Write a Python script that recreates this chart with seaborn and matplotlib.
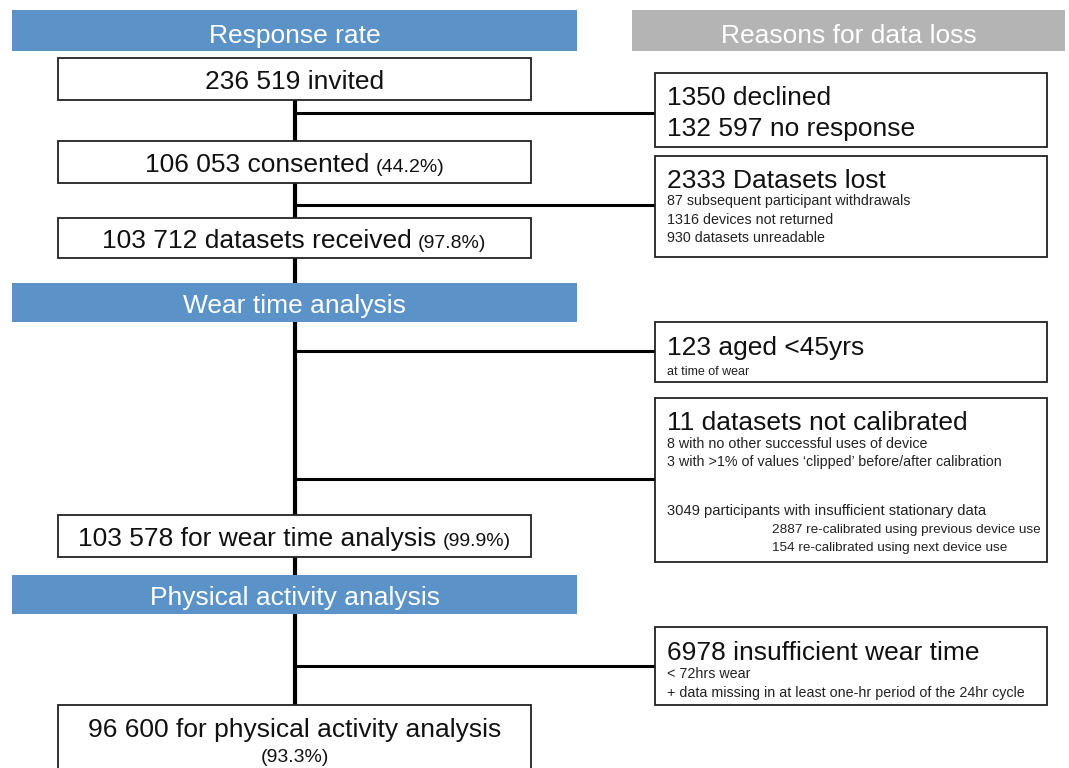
import matplotlib
matplotlib.use("Agg")
import matplotlib.pyplot as plt
import matplotlib.patches as patches
import seaborn as sns

# ---- data (text of the flow diagram) ----
header_labels = ["Response rate", "Reasons for data loss",
                 "Wear time analysis", "Physical activity analysis"]
main_counts = ["236 519 invited", "106 053 consented", "103 712 datasets received",
               "103 578 for wear time analysis", "96 600 for physical activity analysis"]
main_pcts = ["", "(44.2%)", "(97.8%)", "(99.9%)", "(93.3%)"]
loss_titles = [["1350 declined", "132 597 no response"],
               ["2333 Datasets lost"],
               ["123 aged <45yrs"],
               ["11 datasets not calibrated"],
               ["6978 insufficient wear time"]]
loss_details = [[],
                ["87 subsequent participant withdrawals", "1316 devices not returned",
                 "930 datasets unreadable"],
                ["at time of wear"],
                ["8 with no other successful uses of device",
                 "3 with >1% of values \u2018clipped\u2019 before/after calibration",
                 "3049 participants with insufficient stationary data",
                 "2887 re-calibrated using previous device use",
                 "154 re-calibrated using next device use"],
                ["< 72hrs wear", "+ data missing in at least one-hr period of the 24hr cycle"]]

# ---- layout (pixel coordinates, y downwards, text y = baseline) ----
BLUE, GREY = "#5b93c9", "#b4b4b4"
INK = "#111111"
header_boxes = [(12, 10, 565, 41, BLUE), (632, 10, 433, 41, GREY),
                (12, 283, 565, 39, BLUE), (12, 575, 565, 39, BLUE)]
header_base = [43, 43, 313, 605]
main_boxes = [(58, 58, 473, 42), (58, 141, 473, 42), (58, 218, 473, 40),
              (58, 515, 473, 42), (58, 705, 473, 80)]
main_base = [89, 172, 248, 546, 737]
loss_boxes = [(655, 73, 392, 74), (655, 156, 392, 101), (655, 322, 392, 60),
              (655, 398, 392, 164), (655, 627, 392, 78)]
branch_y = [113, 205, 351, 479, 666]
title_base = [[105, 136], [188], [355], [430], [660]]
# (x, baseline, fontsize)
detail_pos = [[],
              [(667, 205, 10.3), (667, 224, 10.3), (667, 242, 10.3)],
              [(667, 375, 9)],
              [(667, 448, 10.3), (667, 466, 10.3), (667, 515, 10.6),
               (772, 533, 9.7), (772, 551, 9.7)],
              [(667, 678, 10.3), (667, 697, 10.3)]]
spine_x = 295
BIG, PCT = 19, 14

sns.set_theme(style="white")
plt.rcParams['font.family'] = ['Liberation Sans', 'DejaVu Sans']
plt.rcParams['text.color'] = INK

fig = plt.figure(figsize=(10.69, 7.68), dpi=100)
ax = fig.add_axes([0, 0, 1, 1])
ax.set_xlim(0, 1069)
ax.set_ylim(768, 0)
ax.axis("off")

# connector lines
ax.plot([spine_x, spine_x], [100, 780], color="black", lw=3, zorder=1)
for by in branch_y:
    ax.plot([spine_x, 655], [by, by], color="black", lw=2.2, zorder=1)

# coloured section headers
for (x, y, w, h, c), lab, tb in zip(header_boxes, header_labels, header_base):
    ax.add_patch(patches.Rectangle((x, y), w, h, facecolor=c, edgecolor="none", zorder=3))
    ax.text(x + w / 2, tb, lab, color="white", fontsize=BIG,
            ha="center", va="baseline", zorder=4)

# main flow boxes
fig.canvas.draw()
renderer = fig.canvas.get_renderer()
for i, (x, y, w, h) in enumerate(main_boxes):
    ax.add_patch(patches.Rectangle((x, y), w, h, facecolor="white", edgecolor="#222222",
                                   lw=1.3, zorder=3))
    cx = x + w / 2
    tb = main_base[i]
    if main_pcts[i] == "":
        ax.text(cx, tb, main_counts[i], fontsize=BIG, ha="center", va="baseline", zorder=4)
    elif i == len(main_boxes) - 1:
        ax.text(cx, tb, main_counts[i], fontsize=BIG, ha="center", va="baseline", zorder=4)
        ax.text(cx, tb + 25, main_pcts[i], fontsize=PCT, ha="center", va="baseline", zorder=4)
    else:
        t1 = ax.text(0, tb, main_counts[i], fontsize=BIG, ha="left", va="baseline", zorder=4)
        t2 = ax.text(0, tb, main_pcts[i], fontsize=PCT, ha="left", va="baseline", zorder=4)
        w1 = t1.get_window_extent(renderer).width
        w2 = t2.get_window_extent(renderer).width
        gap = 6
        left = cx - (w1 + gap + w2) / 2
        t1.set_x(left)
        t2.set_x(left + w1 + gap)

# data-loss boxes
for i, (x, y, w, h) in enumerate(loss_boxes):
    ax.add_patch(patches.Rectangle((x, y), w, h, facecolor="white", edgecolor="#222222",
                                   lw=1.3, zorder=3))
    for lab, tb in zip(loss_titles[i], title_base[i]):
        ax.text(667, tb, lab, fontsize=BIG, ha="left", va="baseline", zorder=4)
    for lab, (tx, tb, fs) in zip(loss_details[i], detail_pos[i]):
        ax.text(tx, tb, lab, fontsize=fs, ha="left", va="baseline", color="#222222", zorder=4)

fig.savefig("out.png", dpi=100, facecolor="white")
